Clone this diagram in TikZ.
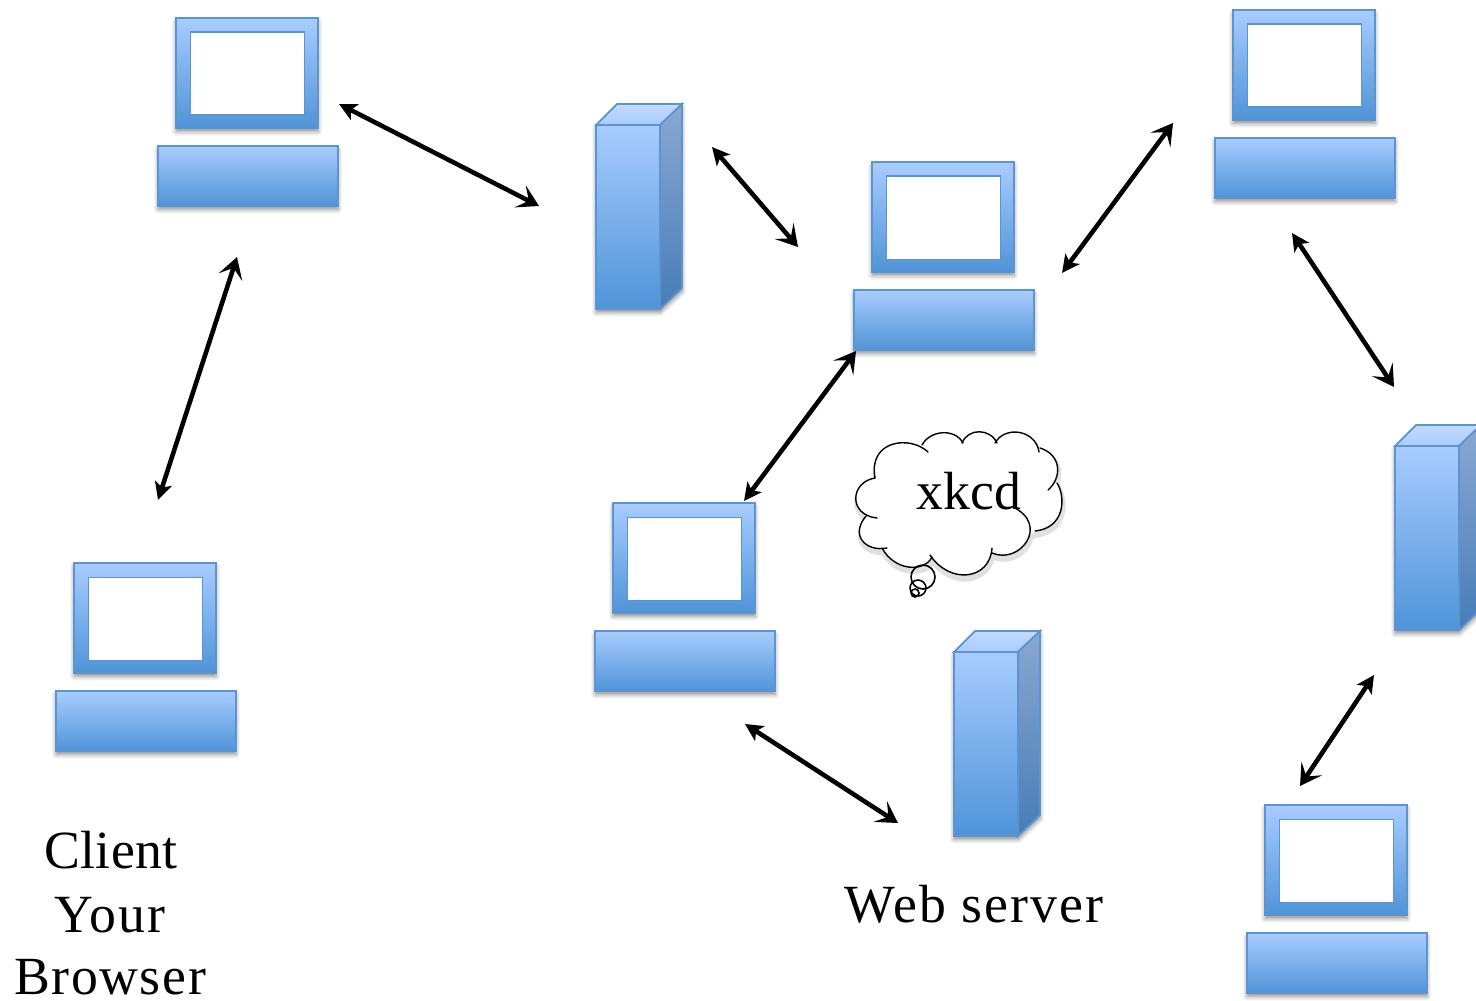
\documentclass[tikz,border=0pt]{standalone}
\usepackage{fontspec}
\setmainfont{Liberation Serif}
\usetikzlibrary{arrows.meta,shadows.blur,calc}
\definecolor{shapetop}{HTML}{A8CCFF}
\definecolor{shapebot}{HTML}{4F94D8}
\definecolor{shapeedge}{HTML}{5B94CF}
\definecolor{towerlid}{HTML}{C2DAFF}
\definecolor{towerlidlow}{HTML}{A8CCFF}
\definecolor{towerside}{HTML}{8AA8D2}
\definecolor{towersidelow}{HTML}{467DB8}
\tikzset{
	softshadow/.style = {blur shadow = {shadow xshift = 0pt, shadow yshift = -2pt, shadow blur radius = 2.5pt, shadow blur steps = 6, shadow opacity = 45}},
	bluebox/.style = {draw = shapeedge, line width = 1pt, top color = shapetop, bottom color = shapebot, inner sep = 0pt, outer sep = 0pt, rectangle, anchor = north west, softshadow},
	link/.style = {draw = black, line width = 2.6pt, {Stealth[length = 10pt, width = 10pt, inset = 2.5pt]}-{Stealth[length = 12pt, width = 14pt, inset = 5.5pt]}},
	label/.style = {font = \fontsize{30.6}{36.3}\selectfont, inner sep = 0pt}
}
% monitor and base, named from the top left corner of the monitor
\newcommand{\computer}[3]{
	\node [bluebox, minimum width = 142*0.02cm, minimum height = 110*0.02cm] (#1screen) at (#2 + 1, #3) {};
	\node [draw = shapeedge, line width = 1pt, fill = white, inner sep = 0pt, minimum width = 114*0.02cm, minimum height = 83*0.02cm, anchor = north west] (#1window) at (#2 + 14.5, #3 + 13.5) {};
	\node [bluebox, minimum width = 180*0.02cm, minimum height = 60*0.02cm] (#1base) at (#2 - 17, #3 + 128) {};
}
% tower, named from the top left corner of its front
\newcommand{\tower}[3]{
	\fill [white, softshadow] (#2 + 1, #3) -- (#2 + 22, #3 - 21) -- (#2 + 87, #3 - 21) -- (#2 + 87, #3 + 163) -- (#2 + 65, #3 + 184) -- (#2 + 1, #3 + 184) -- cycle;
	\filldraw [draw = shapeedge, line width = 1pt, top color = towerlid, bottom color = towerlidlow] (#2 + 1, #3) -- (#2 + 22, #3 - 21) -- (#2 + 87, #3 - 21) -- (#2 + 65, #3) -- cycle;
	\filldraw [draw = shapeedge, line width = 1pt, top color = towerside, bottom color = towersidelow] (#2 + 65, #3) -- (#2 + 87, #3 - 21) -- (#2 + 87, #3 + 163) -- (#2 + 65, #3 + 184) -- cycle;
	\node [draw = shapeedge, line width = 1pt, top color = shapetop, bottom color = shapebot, inner sep = 0pt, outer sep = 0pt, anchor = north west, minimum width = 64*0.02cm, minimum height = 184*0.02cm] (#1) at (#2 + 1, #3) {};
}
\begin{document}
\begin{tikzpicture}[x = 0.02cm, y = -0.02cm]
	\useasboundingbox (0, 0) rectangle (1476, 1000);
	\computer{client}{175}{18}
	\computer{hub}{871}{162}
	\computer{upper}{1232}{10}
	\computer{browser}{73}{563}
	\computer{middle}{612}{503}
	\computer{lower}{1264}{805}
	\tower{routerA}{595}{125}
	\tower{webserver}{953}{652}
	\tower{routerB}{1394}{446}
	% ends of the links
	\coordinate (clientR) at (339, 104);
	\coordinate (routerAL) at (539, 206);
	\coordinate (routerAR) at (712, 147);
	\coordinate (hubL) at (798, 247);
	\coordinate (hubR) at (1062, 273);
	\coordinate (upperL) at (1173, 123);
	\coordinate (upperB) at (1292, 233);
	\coordinate (routerBT) at (1394, 387);
	\coordinate (routerBB) at (1374, 675);
	\coordinate (lowerT) at (1300, 786);
	\coordinate (middleB) at (745, 724);
	\coordinate (webserverL) at (898, 823);
	\coordinate (middleT) at (744, 501);
	\coordinate (hubB) at (856, 351);
	\coordinate (clientB) at (158, 500);
	\coordinate (browserT) at (237, 257);
	\draw [link] (clientR) -- (routerAL);
	\draw [link] (routerAR) -- (hubL);
	\draw [link] (hubR) -- (upperL);
	\draw [link] (upperB) -- (routerBT);
	\draw [link] (routerBB) -- (lowerT);
	\draw [link] (middleB) -- (webserverL);
	\draw [link] (middleT) -- (hubB);
	\draw [link] (clientB) -- (browserT);
	% cloud, one lobe at a time
	\newcommand{\lobes}{875/478/850/482/848/515/877/518, 866/516/850/535/865/552/887/548, 882/548/895/572/925/572/932/557, 930/555/950/585/990/580/992/548, 992/553/1020/565/1050/525/1013/507, 1035/531/1065/528/1066/497/1057/483, 1048/490/1062/478/1062/455/1040/448, 1039/452/1036/430/1005/425/995/443, 997/443/990/428/968/428/962/443, 963/443/955/428/930/430/922/445, 928/452/910/435/868/440/875/478}
	\newcommand{\cloudcore}{(875, 478) -- (866, 516) -- (887, 548) -- (932, 557) -- (992, 553) -- (1035, 531) -- (1057, 483) -- (1048, 490) -- (1040, 448) -- (995, 443) -- (922, 445) -- cycle}
	\begin{scope}[transparency group, opacity = 0.12, shift = {(1, 4)}]
		\filldraw [black, line width = 3pt, line join = round] \cloudcore;
		\foreach \ax/\ay/\bx/\by/\cx/\cy/\dx/\dy in \lobes
			\filldraw [black, line width = 3pt, line join = round] (\ax, \ay) .. controls (\bx, \by) and (\cx, \cy) .. (\dx, \dy) -- cycle;
	\end{scope}
	\filldraw [white, line width = 1pt] \cloudcore;
	\foreach \ax/\ay/\bx/\by/\cx/\cy/\dx/\dy in \lobes
		\filldraw [white, line width = 0.5pt] (\ax, \ay) .. controls (\bx, \by) and (\cx, \cy) .. (\dx, \dy) -- cycle;
	\foreach \ax/\ay/\bx/\by/\cx/\cy/\dx/\dy in \lobes
		\draw [line width = 0.8pt, line cap = round] (\ax, \ay) .. controls (\bx, \by) and (\cx, \cy) .. (\dx, \dy);
	\draw [line width = 0.9pt] (923, 577) circle [radius = 12] (918, 588) circle [radius = 8] (915, 593) circle [radius = 4];
	\node [label] (cloudtext) at (969, 491) {xkcd};
	\node [label, anchor = base] (clienttext) at (111, 868) {\addfontfeature{LetterSpace = 0.7}Client};
	\node [label, anchor = base] (yourtext) at (110, 932) {\addfontfeature{LetterSpace = 4}Your};
	\node [label, anchor = base] (browsertext) at (110, 994) {\addfontfeature{LetterSpace = 3}Browser};
	\node [label, anchor = base] (servertext) at (974, 922) {\addfontfeature{LetterSpace = 3.8}Web server};
\end{tikzpicture}
\end{document}
